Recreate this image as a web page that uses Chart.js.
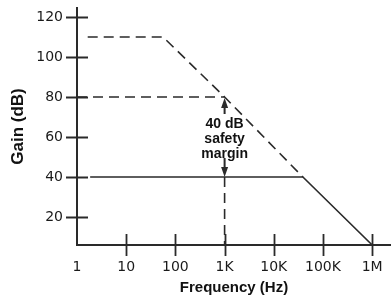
<!DOCTYPE html>
<html>
<head>
<meta charset="utf-8">
<script src="https://cdn.jsdelivr.net/npm/chart.js@4.4.0/dist/chart.umd.min.js"></script>
<style>
  html, body { margin: 0; padding: 0; background: #fff; }
  #wrap { width: 391px; height: 297px; }
</style>
</head>
<body>
<div id="wrap"><canvas id="chart"></canvas></div>
<script>
// axis ticks
const xTicks = [1, 10, 100, 1e3, 1e4, 1e5, 1e6];
const xTickLabels = ['1', '10', '100', '1K', '10K', '100K', '1M'];
const yTicks = [20, 40, 60, 80, 100, 120];

// open-loop gain (dashed)
const openLoopFreq = [1.65, 56, 1000, 39000];
const openLoopGain = [110, 110, 80, 40];

// closed-loop gain (solid)
const closedLoopFreq = [1.85, 39000, 1e6];
const closedLoopGain = [40, 40, 6];

// reference dashes at 1K
const refFreq = [1, 1000];
const refGain = [80, 80];
const dropFreq = [1000, 1000];
const dropGain = [40, 6];

// safety margin annotation
const marginFreq = 1000;
const marginTop = 80;
const marginBottom = 40;
const marginMid = 60;
const marginText = ['40 dB', 'safety', 'margin'];

const INK = '#2a2a2a';
const toPts = (xs, ys) => xs.map((x, i) => ({ x, y: ys[i] }));

const lineSet = (xs, ys, dash) => ({
  data: toPts(xs, ys),
  showLine: true,
  borderColor: INK,
  borderWidth: 1.6,
  borderDash: dash || [],
  pointRadius: 0,
  tension: 0,
});

// tick marks crossing the axes, arrows and margin label
const decor = {
  id: 'decor',
  afterDatasetsDraw(chart) {
    const { ctx, scales: { x, y } } = chart;
    const ax = x.getPixelForValue(1);
    const ay = y.bottom;
    ctx.save();
    ctx.strokeStyle = INK;
    ctx.lineWidth = 1.8;
    ctx.beginPath();
    yTicks.forEach(v => {
      const py = Math.round(y.getPixelForValue(v)) + 0.5;
      ctx.moveTo(ax - 11, py);
      ctx.lineTo(ax + 11, py);
    });
    xTicks.slice(1).forEach(v => {
      const px = Math.round(x.getPixelForValue(v)) + 0.5;
      ctx.moveTo(px, ay - 11);
      ctx.lineTo(px, ay + 11);
    });
    ctx.stroke();

    // arrows
    const mx = x.getPixelForValue(marginFreq);
    const topY = y.getPixelForValue(marginTop) + 1;
    const botY = y.getPixelForValue(marginBottom);
    ctx.fillStyle = INK;
    ctx.lineWidth = 2;
    ctx.beginPath();
    ctx.moveTo(mx, topY + 9);
    ctx.lineTo(mx, topY + 16);
    ctx.moveTo(mx, botY - 9);
    ctx.lineTo(mx, botY - 19);
    ctx.stroke();
    ctx.beginPath();
    ctx.moveTo(mx, topY);
    ctx.lineTo(mx - 3.5, topY + 10);
    ctx.lineTo(mx + 3.5, topY + 10);
    ctx.closePath();
    ctx.moveTo(mx, botY);
    ctx.lineTo(mx - 3.5, botY - 10);
    ctx.lineTo(mx + 3.5, botY - 10);
    ctx.closePath();
    ctx.fill();

    // label
    const cy = y.getPixelForValue(marginMid) + 2;
    ctx.font = 'bold 14px "Liberation Sans", Arial, sans-serif';
    ctx.textAlign = 'center';
    ctx.textBaseline = 'middle';
    ctx.fillStyle = '#111';
    marginText.forEach((t, i) => ctx.fillText(t, mx, cy + (i - 1) * 15));
    ctx.restore();
  }
};

new Chart(document.getElementById('chart'), {
  type: 'scatter',
  data: {
    datasets: [
      lineSet(openLoopFreq, openLoopGain, [10, 6]),
      lineSet(closedLoopFreq, closedLoopGain),
      lineSet(refFreq, refGain, [10, 6]),
      lineSet(dropFreq, dropGain, [10, 6]),
    ],
  },
  options: {
    responsive: true,
    maintainAspectRatio: false,
    animation: false,
    layout: { padding: { top: 8, right: 0, left: 0, bottom: 0 } },
    plugins: {
      legend: { display: false },
      tooltip: { enabled: false },
    },
    scales: {
      x: {
        type: 'logarithmic',
        min: 1,
        max: 2.41e6,
        afterBuildTicks: s => { s.ticks = xTicks.map(v => ({ value: v })); },
        afterFit: s => { s.height = 52; s.paddingLeft = 0; s.paddingRight = 0; },
        grid: { display: false, drawTicks: false },
        border: { display: true, color: INK, width: 2 },
        ticks: {
          autoSkip: false,
          maxRotation: 0,
          padding: 14,
          color: '#1a1a1a',
          font: { family: '"DejaVu Sans", sans-serif', size: 14 },
          callback: (v, i) => xTickLabels[i],
        },
        title: {
          display: true,
          text: 'Frequency (Hz)',
          color: '#111',
          padding: { top: 0, bottom: 0 },
          font: { family: '"Liberation Sans", Arial, sans-serif', size: 15, weight: 'bold' },
        },
      },
      y: {
        min: 6,
        max: 124.5,
        afterBuildTicks: s => { s.ticks = yTicks.map(v => ({ value: v })); },
        afterFit: s => { s.width = 77; s.paddingTop = 0; s.paddingBottom = 0; },
        grid: { display: false, drawTicks: false },
        border: { display: true, color: INK, width: 2 },
        ticks: {
          padding: 14,
          color: '#1a1a1a',
          font: { family: '"DejaVu Sans", sans-serif', size: 14 },
        },
        title: {
          display: true,
          text: 'Gain (dB)',
          color: '#111',
          padding: { top: 8, bottom: 0 },
          font: { family: '"Liberation Sans", Arial, sans-serif', size: 17, weight: 'bold' },
        },
      },
    },
  },
  plugins: [decor],
});
</script>
</body>
</html>
